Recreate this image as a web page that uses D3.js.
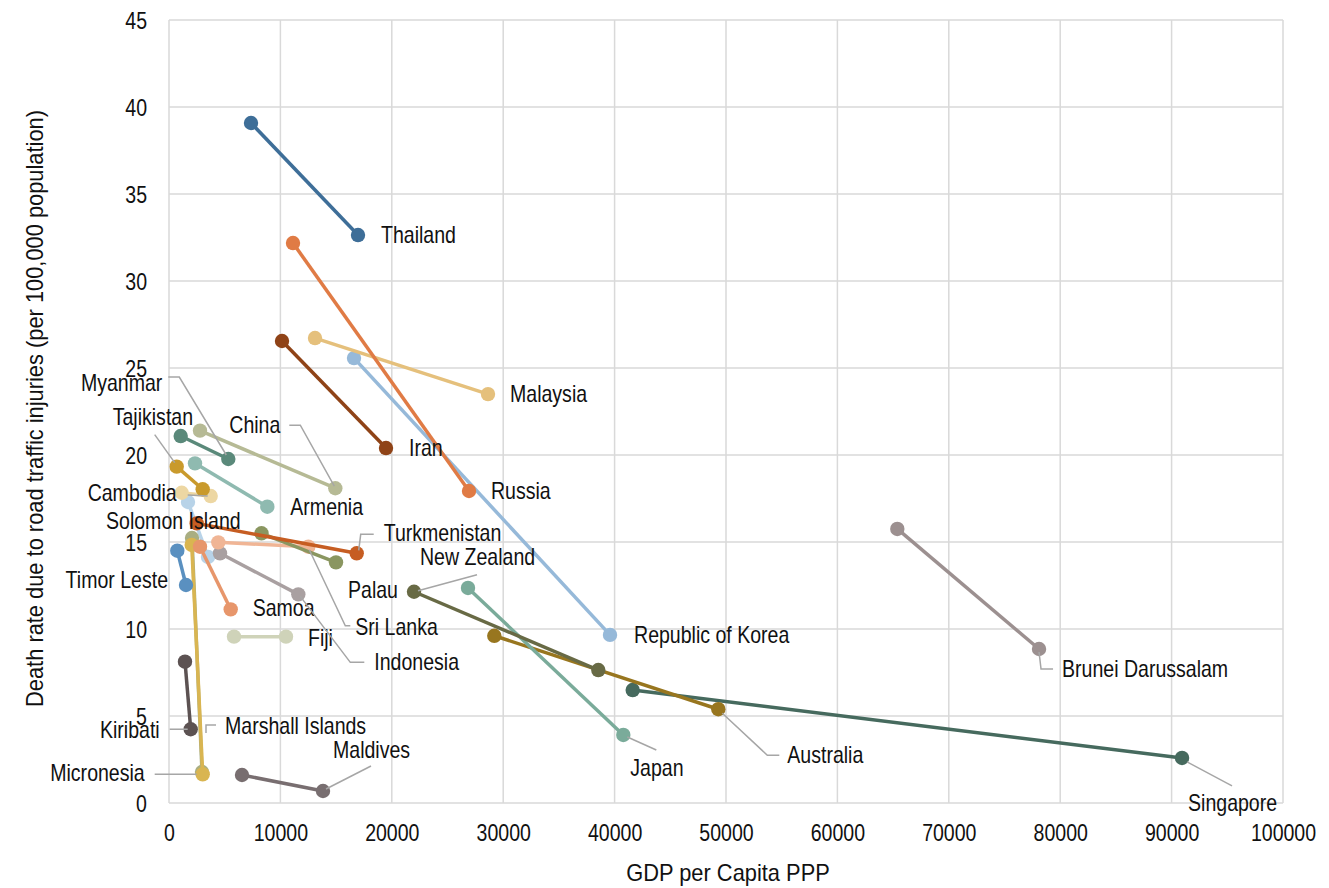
<!DOCTYPE html>
<html><head><meta charset="utf-8">
<script src="https://cdn.jsdelivr.net/npm/d3@7"></script>
<style>
body{margin:0;background:#fff;}
text{font-family:"Liberation Sans",Arial,sans-serif;fill:#111;}
</style></head>
<body><svg id="c" width="1329" height="888"></svg>
<script>
// ---- data ----
const countries = ["Solomon Island","Marshall Islands","Micronesia","Timor Leste","Kiribati","Maldives","Fiji","Samoa","Indonesia","Sri Lanka","Palau","Turkmenistan","Cambodia","Armenia","China","Tajikistan","Myanmar","Brunei Darussalam","Singapore","Australia","Japan","New Zealand","Republic of Korea","Malaysia","Iran","Russia","Thailand"];
const gdpStart   = [1706, 2065, 2040,  745, 1436,  6553,  5835, 2783,  4578,  4426,  8304,  2487, 1140, 2334,  2783,  691, 1050, 65379, 41626, 29202, 26841, 21994, 16607, 13106, 10144, 11131,  7361];
const deathStart = [17.3, 15.23, 14.83, 14.5, 8.12, 1.61, 9.56, 14.73, 14.35, 14.98, 15.5, 16.07, 17.83, 19.52, 21.4, 19.33, 21.09, 15.75, 6.49, 9.61, 12.36, 12.14, 25.57, 26.72, 26.55, 32.18, 39.08];
const gdpEnd     = [3501, 2962, 3025, 1526, 1948, 13825, 10503, 5539, 11607, 12505, 14991, 16850, 3743, 8826, 14929, 3025, 5323, 78100, 90937, 49311, 40783, 38538, 39589, 28637, 19480, 26931, 16967];
const deathEnd   = [14.14, 1.78, 1.65, 12.53, 4.24, 0.69, 9.56, 11.13, 11.99, 14.73, 13.83, 14.35, 17.64, 17.03, 18.09, 18.03, 19.77, 8.85, 2.59, 5.39, 3.91, 7.64, 9.66, 23.5, 20.4, 17.93, 32.64];
const xTicks = [0,10000,20000,30000,40000,50000,60000,70000,80000,90000,100000];
const yTicks = [0,5,10,15,20,25,30,35,40,45];
const xTitle = "GDP per Capita PPP";
const yTitle = "Death rate due to road traffic injuries (per 100,000 population)";

// ---- styles ----
const colors = {
 "Thailand":"#3e6e98","Russia":"#e07b45","Iran":"#8f4317","Malaysia":"#e5c07c","Republic of Korea":"#96b9d9",
 "Brunei Darussalam":"#9c9090","Singapore":"#466a5e","Japan":"#7aab9a","New Zealand":"#686a45","Australia":"#98761f",
 "Myanmar":"#5a897a","Tajikistan":"#c99a2c","China":"#b6ba95","Armenia":"#8fbab0","Cambodia":"#edd7a3",
 "Solomon Island":"#b8d3e8","Turkmenistan":"#c65d22","Palau":"#8a9660","Sri Lanka":"#f0b595","Indonesia":"#a9a0a1",
 "Samoa":"#e7966b","Fiji":"#cfd3b9","Timor Leste":"#5a90c0","Kiribati":"#5c5252","Marshall Islands":"#a9ae82",
 "Micronesia":"#d9b551","Maldives":"#786e70"};
// label layout: anchor point ('s' start / 'e' end), pixel offsets, text anchor, leader polyline offsets
const labelLayout = {
 "Thailand":{a:"e",dx:23,dy:0},
 "Russia":{a:"e",dx:22,dy:0},
 "Iran":{a:"e",dx:23,dy:0},
 "Malaysia":{a:"e",dx:22,dy:0},
 "Republic of Korea":{a:"e",dx:24,dy:0},
 "Brunei Darussalam":{a:"e",dx:23,dy:20,L:[[0,3],[2,20],[14,20]]},
 "Singapore":{a:"e",dx:6,dy:45,L:[[5,4],[50,28]]},
 "Japan":{a:"e",dx:7,dy:33,L:[[4,2],[33,15]]},
 "Australia":{a:"e",dx:69,dy:46,L:[[4,4],[49,46],[61,46]]},
 "New Zealand":{a:"s",dx:6,dy:-35,L:[[4,-1],[63,-17]]},
 "Palau":{a:"e",dx:12,dy:28},
 "Myanmar":{a:"e",dx:-66,dy:-76,end:true,L:[[-2,-4],[-49,-82],[-60,-82]]},
 "Tajikistan":{a:"s",dx:-64,dy:-50,L:[[-2,-4],[-22,-32]]},
 "China":{a:"e",dx:-106,dy:-63,L:[[-1,-2],[-35,-63],[-46,-63]]},
 "Armenia":{a:"e",dx:23,dy:0},
 "Cambodia":{a:"e",dx:-34,dy:-3,end:true,L:[[-3,0],[-23,-1]]},
 "Solomon Island":{a:"s",dx:-82,dy:19},
 "Timor Leste":{a:"e",dx:-18,dy:-5,end:true},
 "Turkmenistan":{a:"e",dx:27,dy:-20,L:[[2,-3],[4,-19],[17,-19]]},
 "Sri Lanka":{a:"e",dx:47,dy:80,L:[[1,3],[37,79],[42,79]]},
 "Indonesia":{a:"e",dx:76,dy:68,L:[[2,2],[52,68],[66,68]]},
 "Samoa":{a:"e",dx:22,dy:-1},
 "Fiji":{a:"e",dx:22,dy:1},
 "Kiribati":{a:"e",dx:-31,dy:1,end:true,L:[[-3,0],[-21,0]]},
 "Marshall Islands":{a:"e",dx:23,dy:-46,L:[[4,-39],[4,-47],[14,-47]]},
 "Micronesia":{a:"e",dx:-58,dy:-1,end:true,L:[[-6,0],[-48,0]]},
 "Maldives":{a:"e",dx:10,dy:-41,L:[[3,-2],[48,-25]]}
};

const FS = 23, SX = 0.85, SXT = 0.95;
const svg = d3.select("#c");
const m = {left:169, right:1283, top:20, bottom:803};
const x = d3.scaleLinear().domain([0,100000]).range([m.left,m.right]);
const y = d3.scaleLinear().domain([0,45]).range([m.bottom,m.top]);

// place text condensed horizontally
function place(t, px, py, rot, sx){
  t.attr("x",0).attr("y",0).attr("dy","0.35em").style("font-size",FS+"px")
   .attr("transform",`translate(${px},${py})${rot?` rotate(${rot})`:""} scale(${sx||SX},1)`);
  return t;
}

// gridlines
svg.append("g").selectAll("line.v").data(xTicks).join("line")
  .attr("x1",d=>x(d)).attr("x2",d=>x(d)).attr("y1",m.top).attr("y2",m.bottom)
  .attr("stroke","#d9d9d9").attr("stroke-width",1.5);
svg.append("g").selectAll("line.h").data(yTicks).join("line")
  .attr("x1",m.left).attr("x2",m.right).attr("y1",d=>y(d)).attr("y2",d=>y(d))
  .attr("stroke","#d9d9d9").attr("stroke-width",1.5);

// axes (labels only)
const xAxis = d3.axisBottom(x).tickValues(xTicks).tickFormat(d3.format("d")).tickSize(0).tickPadding(0);
const gx = svg.append("g").attr("transform",`translate(0,${m.bottom})`).call(xAxis);
gx.select(".domain").remove();
gx.selectAll("text").each(function(){ place(d3.select(this),0,30).attr("fill","#111"); });
const yAxis = d3.axisLeft(y).tickValues(yTicks).tickSize(0).tickPadding(0);
const gy = svg.append("g").attr("transform",`translate(${m.left},0)`).call(yAxis);
gy.select(".domain").remove();
gy.selectAll("text").each(function(){ place(d3.select(this),-22,0).attr("fill","#111"); });

place(svg.append("text").attr("text-anchor","middle").text(xTitle),(m.left+m.right)/2+2,873,0,SXT);
place(svg.append("text").attr("text-anchor","middle").text(yTitle),35,(m.top+m.bottom)/2-3,-90,SXT);

// series
const series = countries.map((c,i)=>({name:c, p:[[gdpStart[i],deathStart[i]],[gdpEnd[i],deathEnd[i]]]}));
const gS = svg.append("g");
series.forEach(s=>{
  const g = gS.append("g");
  g.append("path").attr("d",d3.line().x(d=>x(d[0])).y(d=>y(d[1]))(s.p))
   .attr("stroke",colors[s.name]).attr("stroke-width",3.5).attr("fill","none");
  g.selectAll("circle").data(s.p).join("circle").attr("cx",d=>x(d[0])).attr("cy",d=>y(d[1])).attr("r",7.2)
   .attr("fill",colors[s.name]);
});

// labels
const gL = svg.append("g");
series.forEach(s=>{
  const L = labelLayout[s.name]; if(!L) return;
  const pt = L.a==="s"? s.p[0] : s.p[1];
  const px = x(pt[0]), py = y(pt[1]);
  if(L.L){
    gL.append("polyline").attr("points",L.L.map(q=>[px+q[0],py+q[1]].join(",")).join(" "))
      .attr("fill","none").attr("stroke","#a6a6a6").attr("stroke-width",1.5);
  }
  place(gL.append("text").attr("text-anchor",L.end?"end":"start").text(s.name), px+L.dx, py+L.dy);
});
</script></body></html>
